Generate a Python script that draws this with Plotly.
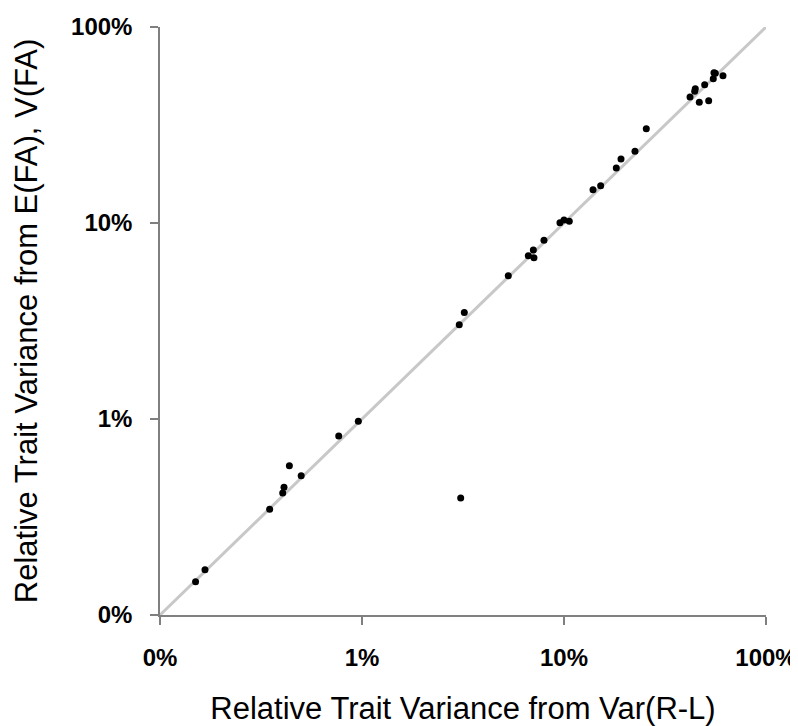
import plotly.graph_objects as go

# Relative trait variance (percent)
x_var_rl = [0.150, 0.167, 0.349, 0.405, 0.411, 0.437, 0.500, 0.767, 0.959, 3.08,
            3.03, 3.21, 5.30, 6.66, 7.05, 7.10, 7.96, 9.55, 10.0, 10.62,
            13.92, 15.19, 18.15, 19.15, 22.46, 25.55, 42.06, 44.36, 44.67, 46.75,
            49.71, 52.03, 54.83, 55.27, 56.10, 61.24]
y_efa_vfa = [0.148, 0.170, 0.346, 0.419, 0.448, 0.578, 0.514, 0.819, 0.973, 0.395,
             3.03, 3.49, 5.38, 6.81, 7.28, 6.65, 8.16, 10.03, 10.36, 10.20,
             14.79, 15.50, 19.08, 21.21, 23.21, 30.28, 43.94, 46.98, 48.44, 41.28,
             50.77, 42.07, 54.48, 58.45, 58.05, 56.43]

diag = [0.1, 100.0]
tick_vals = [0.1, 1, 10, 100]
tick_text = ["0%", "1%", "10%", "100%"]

x_title = "Relative Trait Variance from Var(R-L)"
y_title = "Relative Trait Variance from E(FA), V(FA)"

fig = go.Figure()
fig.add_trace(go.Scatter(x=diag, y=diag, mode="lines",
                         line=dict(color="#c8c8c8", width=3),
                         hoverinfo="skip", showlegend=False))
fig.add_trace(go.Scatter(x=x_var_rl, y=y_efa_vfa, mode="markers",
                         marker=dict(color="black", size=7),
                         showlegend=False))

axis_common = dict(
    type="log", range=[-1, 2], tickvals=tick_vals, ticktext=tick_text,
    showgrid=False, zeroline=False, showline=True, linecolor="#808080",
    linewidth=1.5, ticks="outside", ticklen=8, tickcolor="#808080", tickwidth=1.5,
    automargin=False, ticklabeloverflow="allow",
    tickfont=dict(family="Liberation Sans, Arial, sans-serif", size=24,
                  color="black", weight="bold"),
)

fig.update_xaxes(**axis_common, ticklabelstandoff=12,
                 title=dict(text=x_title, standoff=31,
                            font=dict(family="Liberation Sans, Arial, sans-serif",
                                      size=31, color="black")))
fig.update_yaxes(**axis_common, ticklabelstandoff=13,
                 title=dict(text=y_title, standoff=24,
                            font=dict(family="Liberation Sans, Arial, sans-serif",
                                      size=31, color="black")))

# page body has an 8px default margin, so the figure is sized to fit the window
fig.update_layout(
    width=790, height=718,
    margin=dict(l=152, r=32, t=19, b=111),
    paper_bgcolor="white", plot_bgcolor="white",
)

fig.write_html("out.html")
